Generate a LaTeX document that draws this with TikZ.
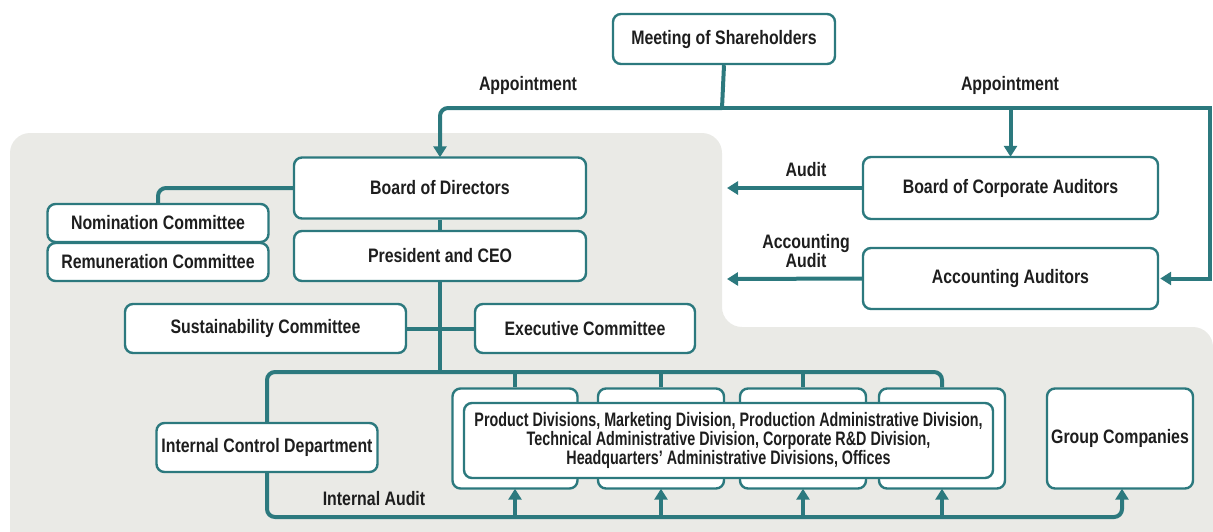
\documentclass[tikz,border=0pt]{standalone}
\usepackage{fontspec}
\setmainfont{Liberation Sans}[FakeStretch=0.815]
\newfontfamily\narrowf{Liberation Sans}[FakeStretch=0.735]
\usetikzlibrary{arrows.meta,calc}
\definecolor{teal1}{RGB}{44,121,126}
\definecolor{bggray}{RGB}{234,234,230}
\definecolor{txt}{RGB}{30,30,30}
\begin{document}
\begin{tikzpicture}[x=1pt,y=-1pt,
  every node/.style={text=txt,font=\fontsize{19.5}{19.3}\selectfont\bfseries},
  box/.style={draw=teal1,line width=2.4pt,rounded corners=8pt,fill=white,inner sep=0pt,align=center},
  conn/.style={draw=teal1,line width=4pt},
  arr/.style={conn,-{Triangle[width=13pt,length=11pt]}},
  lbl/.style={inner sep=0pt,align=center},
  divtext/.style={font=\narrowf\fontsize{19.5}{19.4}\selectfont\bfseries}]
\useasboundingbox (0,0) rectangle (1213,531);
% background
\fill[bggray, rounded corners=20pt] (10,531) -- (10,133) -- (722,133) -- (722,327) -- (1213,327) -- (1213,620) -- (10,620) -- cycle;
% coordinates
\coordinate (tb) at (722,108);
\coordinate (bus) at (440,372);
\coordinate (bb) at (0,517);
\coordinate (auda) at (727,188);
\coordinate (accb) at (727,279);
\coordinate (rc) at (1210,108);
% nodes
\node[box,minimum width=222pt,minimum height=50pt] (msh) at (724,39) {Meeting of Shareholders};
\node[box,minimum width=292pt,minimum height=61pt] (bod) at (440,188) {Board of Directors};
\node[box,minimum width=292pt,minimum height=50pt] (pres) at (440,256) {President and CEO};
\node[box,minimum width=221pt,minimum height=38pt] (nom) at (158,223) {Nomination Committee};
\node[box,minimum width=221pt,minimum height=38pt] (rem) at (158,262) {Remuneration Committee};
\node[box,minimum width=281pt,minimum height=49pt] (sus) at (265.5,328.5) {Sustainability Committee};
\node[box,minimum width=220pt,minimum height=49pt] (exe) at (585,328.5) {Executive Committee};
\node[box,minimum width=221pt,minimum height=49pt] (icd) at (267,447.5) {Internal Control Department};
\node[box,minimum width=125pt,minimum height=100pt] (d1) at (515,438.5) {};
\node[box,minimum width=126pt,minimum height=100pt] (d2) at (661,438.5) {};
\node[box,minimum width=126pt,minimum height=100pt] (d3) at (803,438.5) {};
\node[box,minimum width=126pt,minimum height=100pt] (d4) at (942,438.5) {};
\node[box,minimum width=146pt,minimum height=100pt] (gc) at (1120,438.5) {Group Companies};
\node[box,minimum width=295pt,minimum height=62pt] (bca) at (1010.5,188) {Board of Corporate Auditors};
\node[box,minimum width=295pt,minimum height=61pt] (aa) at (1010.5,278.5) {Accounting Auditors};
% labels
\node[lbl] (ap1) at (528,85) {Appointment};
\node[lbl] (ap2) at (1010,85) {Appointment};
\node[lbl] (aud) at (806,170) {Audit};
\node[lbl,font=\fontsize{19.5}{18}\selectfont\bfseries] (acc) at (806,251) {Accounting\\Audit};
\node[lbl] (ia) at (374,499) {Internal Audit};
% connectors
\draw[conn] (msh.south) -- (tb);
\draw[arr,rounded corners=8pt] (tb) -- (bod.north |- tb) -- ([yshift=-1pt]bod.north);
\draw[arr] (bca.north |- tb) -- ([yshift=-1pt]bca.north);
\draw[arr] (tb) -- (rc) |- ([xshift=1pt]aa.east);
\draw[arr] (bca.west) -- (auda);
\draw[arr] (aa.west) -- (accb);
\draw[conn,rounded corners=8pt] (bod.west) -| (nom.north);
\draw[conn] (bod.south) -- (pres.north);
\draw[conn] (pres.south) -- (bus);
\draw[conn] (sus.east) -- (exe.west);
\draw[conn,rounded corners=8pt] (icd.north) -- (icd.north |- bus) -- (d4.north |- bus) -- (d4.north);
\draw[conn] (d1.north |- bus) -- (d1.north);
\draw[conn] (d2.north |- bus) -- (d2.north);
\draw[conn] (d3.north |- bus) -- (d3.north);
\draw[arr,rounded corners=8pt] (icd.south) -- (icd.south |- bb) -- ($(gc.south |- bb)+(2,0)$) -- ([xshift=2pt,yshift=1pt]gc.south);
\draw[arr] (d1.south |- bb) -- ([yshift=1pt]d1.south);
\draw[arr] (d2.south |- bb) -- ([yshift=1pt]d2.south);
\draw[arr] (d3.south |- bb) -- ([yshift=1pt]d3.south);
\draw[arr] (d4.south |- bb) -- ([yshift=1pt]d4.south);
% inner box over the outer boxes
\node[box,divtext,minimum width=529pt,minimum height=75pt] (inner) at (728.5,440.5) {Product Divisions, Marketing Division, Production Administrative Division,\\Technical Administrative Division, Corporate R\&D Division,\\Headquarters’ Administrative Divisions, Offices};
\end{tikzpicture}
\end{document}
